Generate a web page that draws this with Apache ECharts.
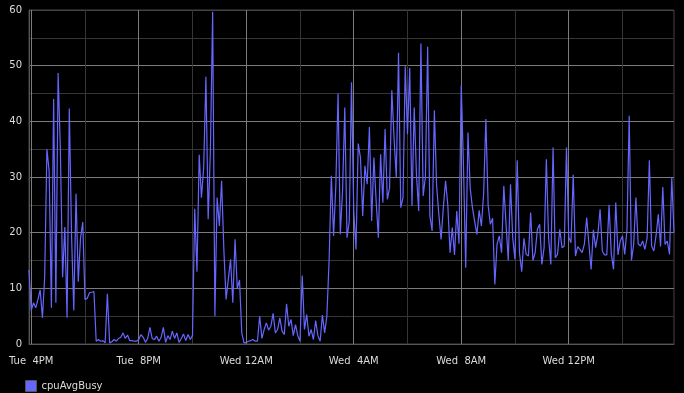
<!DOCTYPE html>
<html><head><meta charset="utf-8">
<script src="https://cdn.jsdelivr.net/npm/echarts@6/dist/echarts.min.js"></script>
<style>html,body{margin:0;padding:0;background:#000;}#c{width:684px;height:393px;}</style>
</head><body><div id="c"></div>
<script>
// ---- data ----
const seriesName = 'cpuAvgBusy';
const dayNames = ['Tue', 'Wed'];
const startMinute = 15 * 60 + 55;   // Tue 15:55
const stepMinutes = 5;
const cpuAvgBusy = [
  13.3, 6, 7.4, 6.5, 8, 9.7, 4.7, 12, 35, 31,
  6.5, 44, 7.4, 48.7, 35, 12, 21, 4.7, 42.3, 19.5,
  6, 27, 11.2, 19, 21.9, 8, 8.2, 9.2, 9.3, 9.4,
  0.5, 0.8, 0.5, 0.6, 0.2, 9, 0.2, 0.4, 0.8, 0.5,
  1, 1.2, 2, 1, 1.6, 0.6, 0.6, 0.5, 0.5, 0.8,
  1.7, 1.2, 0.3, 1, 3, 1, 0.8, 1.4, 0.5, 1.2,
  3, 0.3, 1.5, 0.8, 2.3, 1, 2, 0.3, 1, 1.8,
  0.6, 1.7, 0.8, 1.5, 24.3, 13, 34, 26.3, 31.7, 48,
  22.4, 34.7, 59.7, 5, 26.3, 21.2, 29.3, 17, 8, 11.6,
  15.2, 7.4, 18.8, 10, 11.5, 2, 0.2, 0.3, 0.5, 0.6,
  0.8, 0.5, 0.5, 5, 1, 2.6, 3.8, 2.5, 3.2, 5.5,
  2, 2.6, 4.7, 2.3, 1.7, 7.2, 3.2, 4.4, 1.5, 3.5,
  1.5, 0.5, 12.3, 2.6, 5.3, 1.4, 2.6, 0.8, 4.2, 1.5,
  0.5, 5.2, 2, 5, 15, 30.2, 19.4, 28.4, 45, 19.7,
  27.5, 42.5, 19.1, 22, 47, 23.9, 17, 36, 33.5, 23,
  32, 28.7, 39, 22.1, 33.5, 25.7, 19.1, 34.1, 25.4, 38.6,
  26, 28, 45.6, 37, 29.9, 52.3, 24.5, 26.3, 49.9, 37.7,
  49.6, 24.8, 42.5, 30.5, 23.9, 54, 26.6, 30, 53.4, 23,
  20.3, 42, 28.4, 23.3, 18.8, 24.5, 29.3, 25, 16.4, 20.9,
  16, 23.9, 18, 46.5, 32, 13.7, 38, 28, 24.5, 22,
  19.7, 24, 21.2, 27, 40.4, 25, 21.5, 22.6, 10.7, 18,
  19.4, 16.4, 28.4, 21.5, 15, 28.7, 19, 15.2, 33, 16.4,
  13, 19, 16.1, 15.8, 23.6, 15, 16.4, 20.6, 21.5, 14.3,
  17.3, 33.2, 19.1, 14.3, 35.3, 15.5, 16.1, 20.6, 17.3, 17.6,
  35.3, 19.2, 18.2, 30.4, 15.8, 17.5, 17, 16.4, 18, 22.7,
  18, 13.4, 20.5, 17.3, 19.7, 24.2, 16.7, 16, 16, 25,
  16.2, 13.4, 25.4, 16, 18.5, 19.4, 16.1, 20.5, 41, 15,
  17.9, 26.3, 18, 17.6, 18.5, 17, 19, 33, 17.6, 16.7,
  19.5, 23.3, 17.5, 28.2, 17.9, 18.5, 16.1, 29.9, 20
];
const yMin = 0, yMax = 60, yStep = 5, yLabelStep = 10;
const labelEveryHours = 4, gridEveryHours = 2;

// ---- categories (time stamps) ----
const categories = cpuAvgBusy.map((_, i) => {
  const t = startMinute + i * stepMinutes;
  const d = dayNames[Math.floor(t / 1440)];
  const m = t % 1440;
  return d + ' ' + String(Math.floor(m / 60)).padStart(2, '0') + ':' + String(m % 60).padStart(2, '0');
});
function parseCat(v) {
  const [d, hm] = v.split(' ');
  const [h, m] = hm.split(':').map(Number);
  return { d, h, m };
}
function fmtLabel(v) {
  const { d, h } = parseCat(v);
  const h12 = (h % 12) || 12;
  return d + ' ' + (h12 < 10 ? ' ' : '') + h12 + (h < 12 ? 'AM' : 'PM');
}

const MAJ = '#7c7c7c', MIN = '#363636';
const yLineColors = [];
for (let v = yMin; v <= yMax; v += yStep) {
  if (v === yMax) yLineColors.push('#444');
  else yLineColors.push(v % yLabelStep === 0 ? MAJ : MIN);
}
const xLineColors = [];
categories.forEach(c => {
  const { h, m } = parseCat(c);
  if (m === 0 && h % gridEveryHours === 0) xLineColors.push(h % labelEveryHours === 0 ? MAJ : MIN);
});

const font = 'DejaVu Sans';
const chart = echarts.init(document.getElementById('c'), null, { renderer: 'canvas' });
chart.setOption({
  animation: false,
  backgroundColor: '#000',
  grid: { left: 29, right: 10, top: 10, bottom: 49, show: true, borderColor: '#444', borderWidth: 1, backgroundColor: 'transparent' },
  legend: {
    left: 20, top: 375, itemWidth: 11, itemHeight: 11, itemGap: 10,
    icon: 'rect',
    data: [{ name: seriesName, itemStyle: { color: '#6666ff', borderColor: '#555', borderWidth: 1 } }],
    textStyle: { color: '#dcdcdc', fontSize: 10, fontFamily: font }
  },
  xAxis: {
    type: 'category',
    data: categories,
    boundaryGap: false,
    axisLine: { show: true, lineStyle: { color: '#555', width: 1 } },
    axisTick: { show: false },
    axisLabel: {
      color: '#dcdcdc', fontSize: 10, fontFamily: font, margin: 12,
      interval: (i, v) => { const { h, m } = parseCat(v); return m === 0 && h % labelEveryHours === 0; },
      formatter: v => fmtLabel(v)
    },
    splitLine: {
      show: true,
      interval: (i, v) => { const { h, m } = parseCat(v); return m === 0 && h % gridEveryHours === 0; },
      lineStyle: { color: xLineColors, width: 1 }
    }
  },
  yAxis: {
    type: 'value', min: yMin, max: yMax, interval: yStep,
    axisLine: { show: true, lineStyle: { color: '#555', width: 1 } },
    axisTick: { show: false },
    axisLabel: {
      color: '#dcdcdc', fontSize: 10, fontFamily: font, margin: 7,
      formatter: v => (v % yLabelStep === 0 ? String(v) : '')
    },
    splitLine: { show: true, lineStyle: { color: yLineColors, width: 1 } }
  },
  series: [{
    name: seriesName,
    type: 'line',
    data: cpuAvgBusy,
    showSymbol: false,
    symbol: 'none',
    lineStyle: { color: '#6666ff', width: 1.2 },
    itemStyle: { color: '#6666ff' },
    z: 3
  }]
});
</script>
</body></html>
